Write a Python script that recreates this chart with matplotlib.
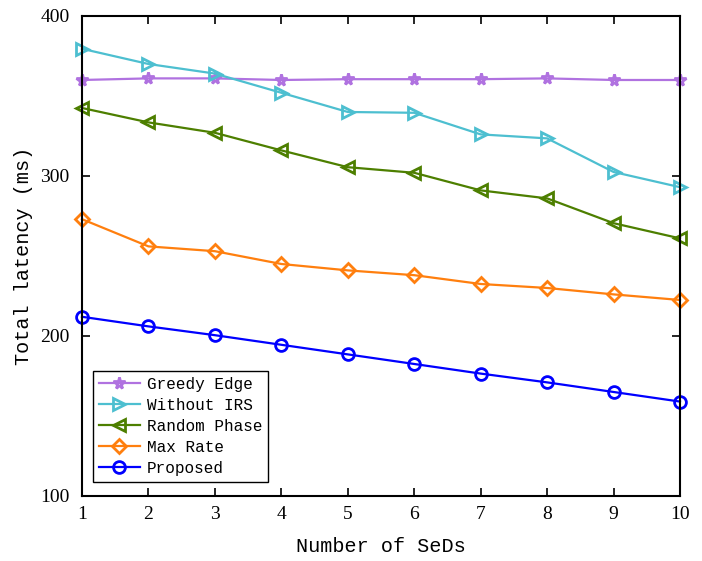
import matplotlib.pyplot as plt

# Datos
num_seds = [1, 2, 3, 4, 5, 6, 7, 8, 9, 10]
greedy_edge = [360, 361, 361, 360, 360.5, 360.5, 360.5, 361, 360, 360]
without_irs = [379.5, 370, 364, 352, 340, 339.5, 326, 323.5, 302.5, 293]
random_phase = [342.5, 333.5, 327, 316, 305.5, 302, 291, 286, 270.5, 261]
max_rate = [273, 256, 253, 245, 241, 238, 232.5, 230, 226, 222.5]
proposed = [212, 206, 200.5, 194.5, 188.5, 182.5, 176.5, 171, 165, 159]

mono = 'Liberation Mono'
serif = 'Liberation Serif'

fig = plt.figure(figsize=(7.02, 5.61), dpi=100)
ax = fig.add_axes([0.1168, 0.1159, 0.8519, 0.8556])

estilo = dict(linewidth=1.6, markersize=8.5, markerfacecolor='none', markeredgewidth=2, clip_on=False)
ax.plot(num_seds, greedy_edge, color='#B072E0', marker='*', label='Greedy Edge', **estilo)
ax.plot(num_seds, without_irs, color='#4DBFD0', marker='>', label='Without IRS', **estilo)
ax.plot(num_seds, random_phase, color='#4D7F00', marker='<', label='Random Phase', **estilo)
ax.plot(num_seds, max_rate, color='#FF7F0E', marker='D', label='Max Rate', markersize=7, linewidth=1.6,
        markerfacecolor='none', markeredgewidth=2, clip_on=False)
ax.plot(num_seds, proposed, color='#0000FF', marker='o', label='Proposed', **estilo)

ax.set_xlim(1, 10)
ax.set_ylim(100, 400)
ax.set_xticks(num_seds)
ax.set_yticks([100, 200, 300, 400])
ax.tick_params(direction='in', top=True, right=True, length=6, width=1.2, labelsize=14)
ax.tick_params(axis='y', pad=9)
ax.tick_params(axis='x', pad=7)
for lbl in ax.get_xticklabels() + ax.get_yticklabels():
    lbl.set_fontfamily(serif)
for s in ax.spines.values():
    s.set_linewidth(1.5)

ax.set_xlabel('Number of SeDs', fontsize=14.5, fontfamily=mono, labelpad=10)
ax.set_ylabel('Total latency (ms)', fontsize=14.5, fontfamily=mono, labelpad=5)

leg = ax.legend(loc='lower left', bbox_to_anchor=(0.0185, 0.03), prop={'family': mono, 'size': 11.5},
                fancybox=False, edgecolor='black', framealpha=1, borderpad=0.35, labelspacing=0.38,
                handlelength=2.6, handletextpad=0.4, borderaxespad=0)
leg.get_frame().set_linewidth(1.0)

plt.savefig('out.png', dpi=100)
